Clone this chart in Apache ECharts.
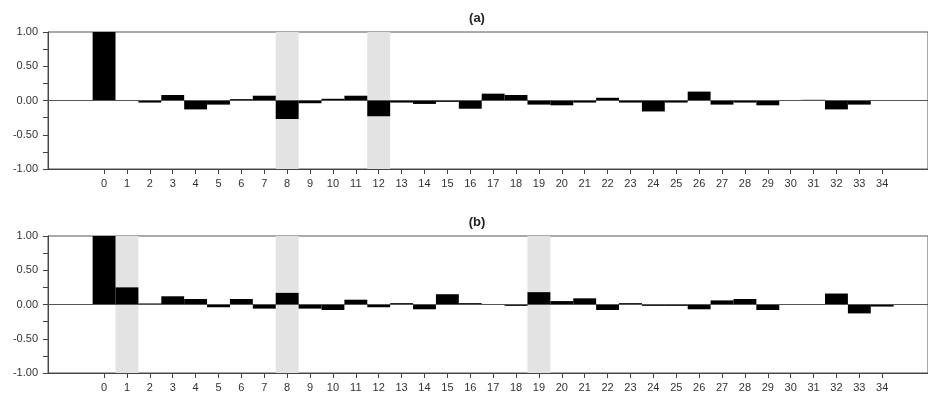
<!DOCTYPE html>
<html>
<head>
<meta charset="utf-8">
<script src="https://cdn.jsdelivr.net/npm/echarts@6/dist/echarts.min.js"></script>
<style>html,body{margin:0;padding:0;background:#fff}#c{width:928px;height:396px}</style>
</head>
<body>
<div id="c"></div>
<script>
const lags = [0,1,2,3,4,5,6,7,8,9,10,11,12,13,14,15,16,17,18,19,20,21,22,23,24,25,26,27,28,29,30,31,32,33,34];
const valuesA = [1.00,0.00,-0.03,0.08,-0.13,-0.06,0.02,0.07,-0.27,-0.04,0.025,0.07,-0.23,-0.03,-0.05,-0.02,-0.12,0.10,0.08,-0.06,-0.07,-0.03,0.04,-0.03,-0.16,-0.03,0.13,-0.06,-0.03,-0.07,0.00,0.01,-0.13,-0.06,0.00];
const valuesB = [1.00,0.25,0.015,0.12,0.08,-0.04,0.08,-0.06,0.17,-0.06,-0.08,0.07,-0.04,0.02,-0.07,0.15,0.02,0.005,-0.02,0.18,0.05,0.09,-0.08,0.02,-0.02,-0.02,-0.07,0.06,0.08,-0.08,0.00,0.00,0.16,-0.13,-0.03];
const shadedA = [8,12];
const shadedB = [1,8,19];
const titles = ['(a)','(b)'];

const chart = echarts.init(document.getElementById('c'));
const tops = [32, 236];
const grids = [], xAxes = [], yAxes = [], series = [], titleOpts = [];
[valuesA, valuesB].forEach((vals, k) => {
  const shaded = k === 0 ? shadedA : shadedB;
  grids.push({left:48, right:-1, top:tops[k], height:137, show:true, borderColor:'#555', borderWidth:1, backgroundColor:'transparent'});
  xAxes.push({
    type:'value', gridIndex:k, min:-2.45, max:36.0,
    axisLine:{show:true, onZero:false, lineStyle:{color:'#444'}},
    axisTick:{show:true, length:5, customValues:lags, lineStyle:{color:'#444'}},
    axisLabel:{show:true, customValues:lags, color:'#333', fontSize:11, fontFamily:'Arial, Liberation Sans', margin:9},
    splitLine:{show:false}
  });
  yAxes.push({
    type:'value', gridIndex:k, min:-1, max:1, interval:0.25,
    axisLine:{show:true, onZero:false, lineStyle:{color:'#444'}},
    axisTick:{show:true, length:5, lineStyle:{color:'#444'}},
    axisLabel:{color:'#333', fontSize:11, fontFamily:'Arial, Liberation Sans', margin:10,
      formatter: v => (Math.abs(v*2 - Math.round(v*2)) < 1e-9) ? (v===0?'0.00':v.toFixed(2)) : ''},
    splitLine:{show:false}
  });
  series.push({
    type:'bar', xAxisIndex:k, yAxisIndex:k, z:1, data:[], silent:true,
    markArea:{silent:true, itemStyle:{color:'#e3e3e3'},
      data: shaded.map(s => [{xAxis:s-0.5, yAxis:-1},{xAxis:s+0.5, yAxis:1}])}
  });
  series.push({
    type:'bar', xAxisIndex:k, yAxisIndex:k, z:3, barWidth:'100%', barGap:'-100%',
    itemStyle:{color:'#000'},
    data: lags.map((l,i) => [l, vals[i]]),
    markLine:{silent:true, symbol:'none', label:{show:false}, lineStyle:{color:'#555', width:1, type:'solid'},
      data:[{yAxis:0}]}
  });
  titleOpts.push({text:titles[k], left:472, top:tops[k]-25, textAlign:'center',
    textStyle:{fontSize:13, fontWeight:'bold', color:'#222', fontFamily:'Arial, Liberation Sans'}});
});
chart.setOption({
  animation:false,
  title:titleOpts,
  grid:grids, xAxis:xAxes, yAxis:yAxes, series:series
});
</script>
</body>
</html>
